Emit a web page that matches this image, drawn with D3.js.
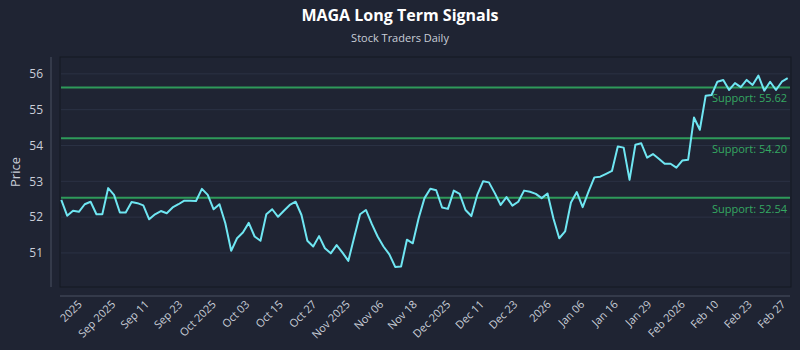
<!DOCTYPE html>
<html>
<head>
<meta charset="utf-8">
<script src="https://cdn.jsdelivr.net/npm/d3@7"></script>
<style>
  html, body { margin: 0; padding: 0; background: #1f2433; }
  svg { display: block; font-family: "Open Sans", "Noto Sans", sans-serif; }
</style>
</head>
<body>
<div id="chart"></div>
<script>
// daily closes
const prices = [
    52.48, 52.04, 52.18, 52.15, 52.36, 52.43, 52.08, 52.08, 52.81, 52.62,
    52.13, 52.13, 52.42, 52.39, 52.33, 51.94, 52.08, 52.17, 52.11, 52.27,
    52.36, 52.46, 52.46, 52.45, 52.79, 52.62, 52.22, 52.36, 51.83, 51.06,
    51.41, 51.57, 51.84, 51.46, 51.34, 52.08, 52.22, 52.01, 52.18, 52.34,
    52.43, 52.06, 51.34, 51.18, 51.47, 51.13, 50.99, 51.22, 51.01, 50.78,
    51.44, 52.08, 52.20, 51.81, 51.46, 51.18, 50.96, 50.61, 50.62, 51.37,
    51.27, 51.97, 52.53, 52.79, 52.75, 52.27, 52.23, 52.74, 52.65, 52.20,
    52.03, 52.62, 53.00, 52.97, 52.67, 52.34, 52.56, 52.32, 52.43, 52.74,
    52.71, 52.65, 52.53, 52.66, 51.97, 51.41, 51.60, 52.41, 52.70, 52.28,
    52.71, 53.11, 53.13, 53.21, 53.29, 53.97, 53.94, 53.04, 54.02, 54.06,
    53.66, 53.76, 53.63, 53.49, 53.49, 53.38, 53.58, 53.60, 54.78, 54.44,
    55.39, 55.41, 55.78, 55.83, 55.55, 55.74, 55.63, 55.83, 55.69, 55.95,
    55.53, 55.78, 55.55, 55.78, 55.88
]
const supports = [55.62, 54.20, 52.54]
const xTickLabels = [
    "2025", "Sep 2025", "Sep 11", "Sep 23", "Oct 2025", "Oct 03", "Oct 15",
    "Oct 27", "Nov 2025", "Nov 06", "Nov 18", "Dec 2025", "Dec 11", "Dec 23",
    "2026", "Jan 06", "Jan 16", "Jan 29", "Feb 2026", "Feb 10", "Feb 23", "Feb 27"
]
const yTicks = [51, 52, 53, 54, 55, 56]

const width = 800, height = 350
const plot = { left: 60, right: 791, top: 57, bottom: 287 }

const svg = d3.select("#chart").append("svg")
    .attr("width", width)
    .attr("height", height)

svg.append("rect")
    .attr("width", width).attr("height", height)
    .attr("fill", "#1f2433")

// scales
var x = d3.scaleLinear()
    .domain([0, prices.length - 1])
    .range([61.3, 787.7])
var y = d3.scaleLinear()
    .domain([50.05, 56.47])
    .range([plot.bottom, plot.top])
// tick labels sit evenly along the dates axis
var xTicks = d3.scalePoint()
    .domain(xTickLabels)
    .range([x(3.9), x(prices.length - 1)])

// title
svg.append("text")
    .attr("x", width / 2).attr("y", 21)
    .attr("text-anchor", "middle")
    .attr("fill", "#ffffff")
    .attr("font-size", 16).attr("font-weight", "bold")
    .text("MAGA Long Term Signals")
svg.append("text")
    .attr("x", width / 2).attr("y", 42)
    .attr("text-anchor", "middle")
    .attr("fill", "#c9ced8")
    .attr("font-size", 11)
    .text("Stock Traders Daily")

// plot frame
svg.append("rect")
    .attr("x", plot.left).attr("y", plot.top)
    .attr("width", plot.right - plot.left).attr("height", plot.bottom - plot.top)
    .attr("fill", "#1f2433")
    .attr("stroke", "#141822")
    .attr("stroke-width", 1)

// grid
svg.append("g")
    .selectAll("line")
    .data(yTicks)
    .join("line")
    .attr("x1", plot.left + 1).attr("x2", plot.right - 1)
    .attr("y1", d => y(d)).attr("y2", d => y(d))
    .attr("stroke", "#2b3244")
    .attr("stroke-width", 1)

// y axis
const yAxis = svg.append("g")
    .attr("transform", "translate(51,0)")
    .call(d3.axisLeft(y).tickValues(yTicks).tickFormat(d3.format("d")).tickSize(0).tickPadding(8))
yAxis.select(".domain")
    .attr("d", `M0,${plot.top}V${plot.bottom}`)
    .attr("stroke", "#4a5162")
yAxis.selectAll("text")
    .attr("fill", "#c9ced8")
    .attr("font-size", 12)
    .attr("font-family", "\"Open Sans\", sans-serif")

svg.append("text")
    .attr("transform", `translate(20,${(plot.top + plot.bottom) / 2}) rotate(-90)`)
    .attr("text-anchor", "middle")
    .attr("fill", "#c9ced8")
    .attr("font-size", 13)
    .text("Price")

// x axis
const xAxis = svg.append("g")
    .attr("transform", "translate(0,296)")
    .call(d3.axisBottom(xTicks).tickSize(0).tickPadding(0))
xAxis.select(".domain")
    .attr("d", `M${plot.left},0H${plot.right - 1}`)
    .attr("stroke", "#4a5162")
xAxis.selectAll("text")
    .attr("fill", "#c9ced8")
    .attr("font-size", 11)
    .attr("font-family", "\"Open Sans\", sans-serif")
    .attr("text-anchor", "end")
    .attr("dy", null)
    .attr("transform", "translate(-2,9) rotate(-45)")

// support lines
svg.append("g")
    .selectAll("line")
    .data(supports)
    .join("line")
    .attr("x1", plot.left + 1).attr("x2", plot.right - 1)
    .attr("y1", d => y(d)).attr("y2", d => y(d))
    .attr("stroke", "#2e9a5a")
    .attr("stroke-width", 2)
svg.append("g")
    .selectAll("text")
    .data(supports)
    .join("text")
    .attr("x", plot.right - 4)
    .attr("y", d => y(d) + 15)
    .attr("text-anchor", "end")
    .attr("fill", "#35a862")
    .attr("font-size", 11)
    .text(d => `Support: ${d.toFixed(2)}`)

// price line
var priceLine = d3.line()
    .x((d, i) => x(i))
    .y(d => y(d))
svg.append("path")
    .datum(prices)
    .attr("fill", "none")
    .attr("stroke", "#6fe6f2")
    .attr("stroke-width", 2)
    .attr("stroke-linejoin", "round")
    .attr("d", priceLine)
</script>
</body>
</html>
